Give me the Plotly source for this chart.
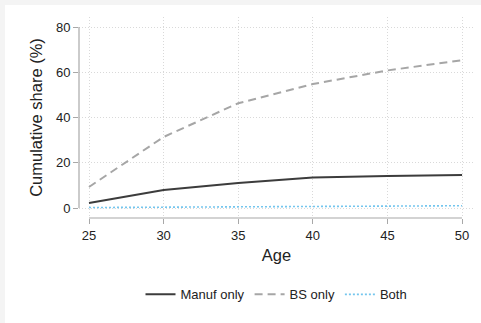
import plotly.graph_objects as go

# Cumulative share by age, three groups
ages = [25, 30, 35, 40, 45, 50]
manuf_only = [2.2, 8.0, 11.0, 13.5, 14.1, 14.6]
bs_only = [9.3, 31.4, 46.3, 54.8, 60.8, 65.3]
both = [0.2, 0.3, 0.5, 0.7, 0.9, 1.0]

x_ticks = [25, 30, 35, 40, 45, 50]
y_ticks = [0, 20, 40, 60, 80]

W, H = 481, 323
ML, MR, MT, MB = 79, 7, 17, 105
FONT = "Liberation Sans, Arial, sans-serif"
TEXT = "#222222"
AXIS = "#a8a8a8"
GRID = "#d9d9d9"

fig = go.Figure()
fig.add_trace(go.Scatter(x=ages, y=manuf_only, mode="lines", name="Manuf only",
                         line=dict(color="#3c3c3c", width=2)))
fig.add_trace(go.Scatter(x=ages, y=bs_only, mode="lines", name="BS only",
                         line=dict(color="#a6a6a6", width=2, dash="8px,5px")))
fig.add_trace(go.Scatter(x=ages, y=both, mode="lines", name="Both",
                         line=dict(color="#74c6ee", width=1.6, dash="2px,2px")))

# axis ranges chosen so the axes sit slightly apart from the data area
x_range = [24.33, 50.8]
y_range = [-4.42, 84.42]

# pale frame strips along the top and left edges of the figure
pw = W - ML - MR
ph = H - MT - MB
def px_x(p):
    return (p - ML) / pw
def px_y(p):
    return (H - MB - p) / ph

fig.add_shape(type="rect", xref="paper", yref="paper", layer="below",
              x0=px_x(0), x1=px_x(W), y0=px_y(0), y1=px_y(5),
              line=dict(width=0), fillcolor="#f4f4f4")
fig.add_shape(type="rect", xref="paper", yref="paper", layer="below",
              x0=px_x(0), x1=px_x(5), y0=px_y(0), y1=px_y(H),
              line=dict(width=0), fillcolor="#f4f4f4")

# axis lines spanning only the labelled range
fig.add_shape(type="line", xref="x", yref="paper", x0=x_ticks[0], x1=x_ticks[-1],
              y0=0, y1=0, line=dict(color=AXIS, width=1.2))
fig.add_shape(type="line", xref="paper", yref="y", x0=0, x1=0,
              y0=y_ticks[0], y1=y_ticks[-1], line=dict(color=AXIS, width=1.2))

fig.update_layout(
    width=W, height=H,
    margin=dict(l=ML, r=MR, t=MT, b=MB),
    paper_bgcolor="white", plot_bgcolor="white",
    font=dict(family=FONT, color=TEXT, size=13),
    showlegend=True,
    legend=dict(orientation="h", x=0.5, xanchor="center", y=-0.38, yanchor="middle",
                font=dict(size=13, color=TEXT), itemwidth=30,
                bgcolor="rgba(0,0,0,0)"),
    xaxis=dict(range=x_range, tickvals=x_ticks, ticks="outside", ticklen=5,
               tickcolor=AXIS, tickwidth=1.2, showline=False, zeroline=False,
               showgrid=True, gridcolor=GRID, griddash="1px,2px", gridwidth=1,
               tickfont=dict(size=13, color=TEXT),
               title=dict(text="Age", font=dict(size=16.5, color=TEXT), standoff=7)),
    yaxis=dict(range=y_range, tickvals=y_ticks, ticks="outside", ticklen=5,
               tickcolor=AXIS, tickwidth=1.2, showline=False, zeroline=False,
               showgrid=True, gridcolor=GRID, griddash="1px,2px", gridwidth=1,
               tickfont=dict(size=13, color=TEXT),
               title=dict(text="Cumulative share (%)", font=dict(size=16.5, color=TEXT), standoff=9)),
)

fig.write_html("out.html")
